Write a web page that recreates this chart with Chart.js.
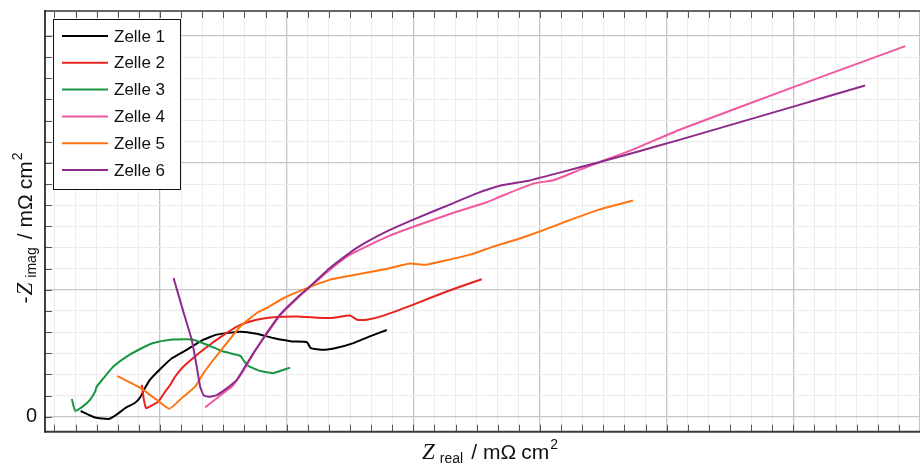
<!DOCTYPE html>
<html>
<head>
<meta charset="utf-8">
<script src="https://cdn.jsdelivr.net/npm/chart.js@4/dist/chart.umd.min.js"></script>
<style>
  html, body { margin: 0; padding: 0; background: #ffffff; }
  #wrap { width: 920px; height: 464px; }
</style>
</head>
<body>
<div id="wrap"><canvas id="nyquist" width="920" height="464"></canvas></div>
<script>
// Impedance spectra (Nyquist plot), Z_real vs -Z_imag in mOhm cm^2
const seriesNames = ['Zelle 1', 'Zelle 2', 'Zelle 3', 'Zelle 4', 'Zelle 5', 'Zelle 6'];
const seriesColors = ['#000000', '#e8231c', '#1a9641', '#f0599f', '#ff7410', '#8e2a8e'];

const zelle1 = [[11.2,1.35],[14.6,-0.2],[17.8,-0.55],[19.8,0.55],[21.7,2.0],[24.1,3.3],[25.3,4.6],[26.4,6.7],[27.6,8.7],[30.0,11.2],[32.8,13.8],[36.3,15.8],[40.3,18.2],[43.4,19.4],[49.0,20.1],[52.9,19.6],[56.8,18.6],[61.2,17.8],[64.8,17.6],[65.7,16.2],[68.7,15.8],[71.9,16.3],[75.8,17.4],[79.7,19.0],[83.7,20.5]];
const zelle2 = [[25.7,7.5],[26.1,4.4],[26.7,2.0],[27.6,2.4],[29.6,3.6],[31.2,5.9],[32.4,7.5],[33.6,9.5],[35.5,11.8],[38.7,14.6],[41.8,17.0],[45.8,19.8],[49.0,21.7],[52.9,22.9],[56.8,23.5],[62.4,23.7],[70.3,23.3],[75.0,23.9],[76.7,22.9],[79.0,22.9],[82.9,23.9],[90.0,26.5],[97.9,29.6],[106.2,32.5]];
const zelle3 = [[9.1,4.2],[9.9,1.4],[11.8,2.5],[13.4,4.0],[14.6,5.9],[15.0,7.1],[16.6,9.1],[18.9,11.8],[22.1,14.2],[25.3,16.0],[28.4,17.4],[32.4,18.2],[36.3,18.3],[37.9,18.2],[41.1,17.0],[45.0,15.4],[49.0,14.4],[49.7,13.4],[50.9,12.0],[53.7,10.8],[56.8,10.3],[60.8,11.6]];
const zelle4 = [[40.7,2.2],[43.0,4.0],[45.4,5.9],[47.1,7.2],[49.7,10.8],[52.1,14.9],[55.3,19.6],[58.4,23.9],[63.2,28.6],[65.1,30.3],[70.3,34.8],[75.0,38.3],[83.7,42.5],[90.0,44.9],[99.5,48.2],[107.4,50.7],[110.5,52.0],[118.4,55.1],[123.2,55.9],[129.5,58.4],[134.2,60.2],[142.1,63.2],[153.2,67.9],[180.0,77.9],[206.5,87.6]];
const zelle5 = [[19.9,9.6],[25.3,6.8],[29.2,4.0],[32.2,1.9],[35.5,4.7],[38.3,7.1],[40.3,10.3],[42.6,13.4],[45.8,17.4],[49.0,21.3],[52.9,24.5],[55.3,25.7],[59.2,28.0],[64.8,30.4],[70.3,32.4],[76.6,33.6],[82.9,34.8],[89.2,36.2],[92.8,35.9],[97.9,37.0],[103.4,38.3],[108.9,40.2],[114.5,41.9],[120.0,43.8],[126.3,46.2],[134.2,49.0],[142.0,51.1]];
const zelle6 = [[33.2,32.8],[35.5,24.9],[37.5,18.2],[38.7,11.8],[39.5,7.1],[40.3,5.1],[41.4,4.7],[43.4,5.1],[45.8,6.7],[48.2,8.7],[49.7,11.1],[52.1,15.0],[55.3,19.8],[58.4,24.1],[63.2,28.8],[65.1,30.4],[70.3,35.2],[76.6,39.9],[83.7,43.8],[90.0,46.6],[99.5,50.5],[105.0,52.8],[110.5,54.6],[116.9,55.7],[124.7,57.7],[134.2,60.2],[143.7,62.8],[153.2,65.5],[180.0,73.3],[197.0,78.3]];

const seriesData = [zelle1, zelle2, zelle3, zelle4, zelle5, zelle6];

// Axis limits and grid spacing
const xLimits = [2.75, 210];
const yLimits = [-3.55, 95.9];
const minorStep = 5;
const majorStep = 30;
const xTickValues = [];
for (let v = 5; v <= 210; v += minorStep) xTickValues.push(v);
const yTickValues = [];
for (let v = 0; v <= 90; v += minorStep) yTickValues.push(v);
const yTickLabels = [{ value: 0, text: '0' }];

const SANS = '"Liberation Sans", Arial, Helvetica, sans-serif';
const SERIF = '"Liberation Serif", "DejaVu Serif", serif';

const isMajor = v => Math.abs(v % majorStep) < 1e-6;
const gridColor = ctx => (ctx.tick && isMajor(ctx.tick.value)) ? '#c6c6c6' : '#ececec';
const gridWidth = ctx => (ctx.tick && isMajor(ctx.tick.value)) ? 1.3 : 1;

// Frame lines and inward tick marks
const framePlugin = {
  id: 'frame',
  afterDatasetsDraw(chart) {
    const { ctx, chartArea: a, scales: { x, y } } = chart;
    ctx.save();
    ctx.strokeStyle = '#555555';
    ctx.lineWidth = 1;
    ctx.beginPath();
    x.ticks.forEach(t => {
      const px = Math.round(x.getPixelForValue(t.value)) + 0.5;
      ctx.moveTo(px, a.bottom); ctx.lineTo(px, a.bottom - 7);
      ctx.moveTo(px, a.top); ctx.lineTo(px, a.top + 7);
    });
    y.ticks.forEach(t => {
      const py = Math.round(y.getPixelForValue(t.value)) + 0.5;
      ctx.moveTo(a.left, py); ctx.lineTo(a.left + 7, py);
    });
    ctx.stroke();

    ctx.lineWidth = 2;
    ctx.strokeStyle = '#666666';
    ctx.beginPath(); ctx.moveTo(a.left, a.top); ctx.lineTo(a.right, a.top); ctx.stroke();
    ctx.strokeStyle = '#3a3a3a';
    ctx.beginPath(); ctx.moveTo(a.left, a.bottom); ctx.lineTo(a.right, a.bottom); ctx.stroke();
    ctx.strokeStyle = '#111111';
    ctx.lineWidth = 1.6;
    ctx.beginPath(); ctx.moveTo(a.left, a.top - 1); ctx.lineTo(a.left, a.bottom + 1); ctx.stroke();
    ctx.restore();
  }
};

// Legend box in the upper left corner
const legendBoxPlugin = {
  id: 'legendBox',
  afterDraw(chart) {
    const { ctx } = chart;
    ctx.save();
    ctx.fillStyle = '#ffffff';
    ctx.fillRect(53.5, 19.5, 127, 170);
    ctx.strokeStyle = '#111111';
    ctx.lineWidth = 1;
    ctx.strokeRect(53.5, 19.5, 127, 170);
    ctx.font = '17px ' + SANS;
    ctx.textBaseline = 'middle';
    ctx.textAlign = 'left';
    chart.data.datasets.forEach((ds, i) => {
      const yy = 36 + i * 26.8;
      ctx.strokeStyle = ds.borderColor;
      ctx.lineWidth = 2;
      ctx.beginPath(); ctx.moveTo(62, yy); ctx.lineTo(108, yy); ctx.stroke();
      ctx.fillStyle = '#111111';
      ctx.fillText(ds.label, 114, yy + 1);
    });
    ctx.restore();
  }
};

// Axis titles with italic symbol, subscript and superscript
function drawRichText(ctx, parts, cx, baseline, rotate) {
  ctx.save();
  let total = 0;
  parts.forEach(p => { ctx.font = p.font; p.w = ctx.measureText(p.text).width; total += p.w + (p.gap || 0); });
  ctx.translate(cx, baseline);
  if (rotate) ctx.rotate(-Math.PI / 2);
  let xx = -total / 2;
  ctx.fillStyle = '#111111';
  ctx.textBaseline = 'alphabetic';
  ctx.textAlign = 'left';
  parts.forEach(p => {
    xx += (p.gap || 0);
    ctx.font = p.font;
    ctx.fillText(p.text, xx, p.dy || 0);
    xx += p.w;
  });
  ctx.restore();
}

const titlePlugin = {
  id: 'axisTitles',
  afterDraw(chart) {
    const { ctx } = chart;
    const main = '21px ' + SANS;
    const small = '14px ' + SANS;
    const sym = 'italic 23px ' + SERIF;
    drawRichText(ctx, [
      { text: 'Z', font: sym },
      { text: 'real', font: small, dy: 4, gap: 5 },
      { text: '/', font: main, gap: 8 },
      { text: 'mΩ', font: main, gap: 6 },
      { text: 'cm', font: main, gap: 5 },
      { text: '2', font: small, dy: -10, gap: 1 }
    ], 490, 459, false);
    drawRichText(ctx, [
      { text: '-', font: main },
      { text: 'Z', font: sym, gap: 1 },
      { text: 'imag', font: small, dy: 4, gap: 5 },
      { text: '/', font: main, gap: 8 },
      { text: 'mΩ', font: main, gap: 6 },
      { text: 'cm', font: main, gap: 5 },
      { text: '2', font: small, dy: -10, gap: 1 }
    ], 32, 228, true);
  }
};

const datasets = seriesData.map((pts, i) => ({
  label: seriesNames[i],
  data: pts.map(p => ({ x: p[0], y: p[1] })),
  borderColor: seriesColors[i],
  backgroundColor: seriesColors[i],
  borderWidth: 2,
  pointRadius: 0,
  showLine: true,
  fill: false,
  tension: 0.15,
  order: seriesNames.length - i
}));

// Keep the plot area exactly where the padding puts it
const noEdgePadding = s => { s.paddingTop = 0; s.paddingBottom = 0; s.paddingLeft = 0; s.paddingRight = 0; };

new Chart(document.getElementById('nyquist'), {
  type: 'scatter',
  data: { datasets },
  options: {
    responsive: false,
    animation: false,
    devicePixelRatio: 1,
    layout: { padding: { top: 11, right: 0, left: 0, bottom: 0 } },
    plugins: { legend: { display: false }, tooltip: { enabled: false } },
    scales: {
      x: {
        type: 'linear',
        min: xLimits[0], max: xLimits[1],
        afterBuildTicks: s => { s.ticks = xTickValues.map(v => ({ value: v })); },
        afterFit: s => { s.height = 32.3; noEdgePadding(s); },
        ticks: { display: false },
        grid: { color: gridColor, lineWidth: gridWidth, drawTicks: false },
        border: { display: false }
      },
      y: {
        type: 'linear',
        min: yLimits[0], max: yLimits[1],
        afterBuildTicks: s => { s.ticks = yTickValues.map(v => ({ value: v })); },
        afterFit: s => { s.width = 45; noEdgePadding(s); },
        ticks: {
          autoSkip: false,
          padding: 8,
          color: '#111111',
          font: { family: SANS, size: 20 },
          callback: v => { const l = yTickLabels.find(t => t.value === v); return l ? l.text : ''; }
        },
        grid: { color: gridColor, lineWidth: gridWidth, drawTicks: false },
        border: { display: false }
      }
    }
  },
  plugins: [framePlugin, legendBoxPlugin, titlePlugin]
});
</script>
</body>
</html>
